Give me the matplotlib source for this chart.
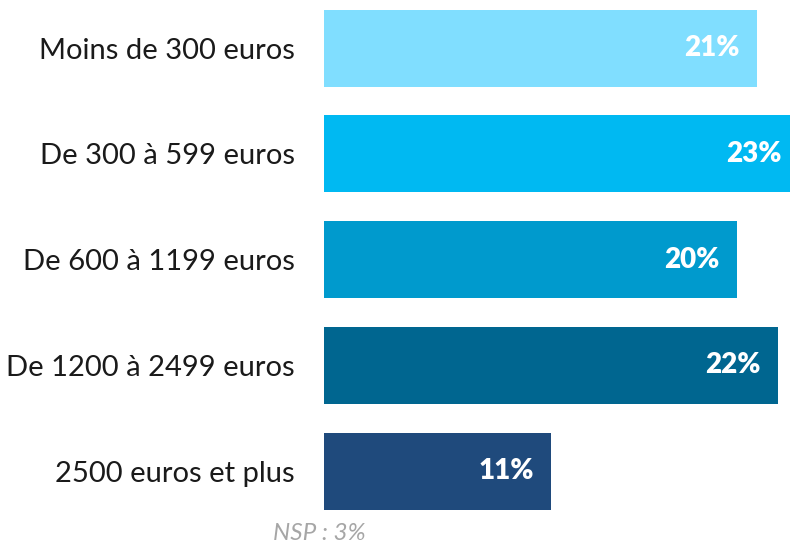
import matplotlib.pyplot as plt

# data
categories = ["Moins de 300 euros", "De 300 à 599 euros", "De 600 à 1199 euros",
              "De 1200 à 2499 euros", "2500 euros et plus"]
values = [21, 23, 20, 22, 11]
colors = ["#80DEFF", "#00B9F2", "#009ACD", "#006690", "#1F4A7C"]
note = "NSP : 3%"

plt.rcParams['font.family'] = ['Lato', 'DejaVu Sans']

fig = plt.figure(figsize=(7.9, 5.44), dpi=100)
# axes slightly wider than the figure so the longest bar is cut at the edge
ax = fig.add_axes([324 / 790, 20 / 544, 474.5 / 790, 528.75 / 544])

pos = list(range(len(categories)))
ax.barh(pos, values, height=0.73, color=colors)
ax.set_xlim(0, 23)
ax.set_ylim(4.5, -0.5)

ax.set_yticks(pos)
ax.set_yticklabels(categories, fontsize=21, color="#1a1a1a")
ax.tick_params(axis='y', length=0, pad=21)
ax.set_xticks([])
for s in ax.spines.values():
    s.set_visible(False)

for p, v in zip(pos, values):
    ax.annotate(f"{v}%", xy=(v, p), xytext=(-12.5, 0), textcoords="offset points",
                ha="right", va="center", color="white", fontsize=20, fontweight="heavy")

fig.text(319 / 790, 1 - 533 / 544, note, ha="center", va="center",
         fontsize=17.5, style="italic", color="#A6A6A6")

fig.savefig("out.png", dpi=100)
